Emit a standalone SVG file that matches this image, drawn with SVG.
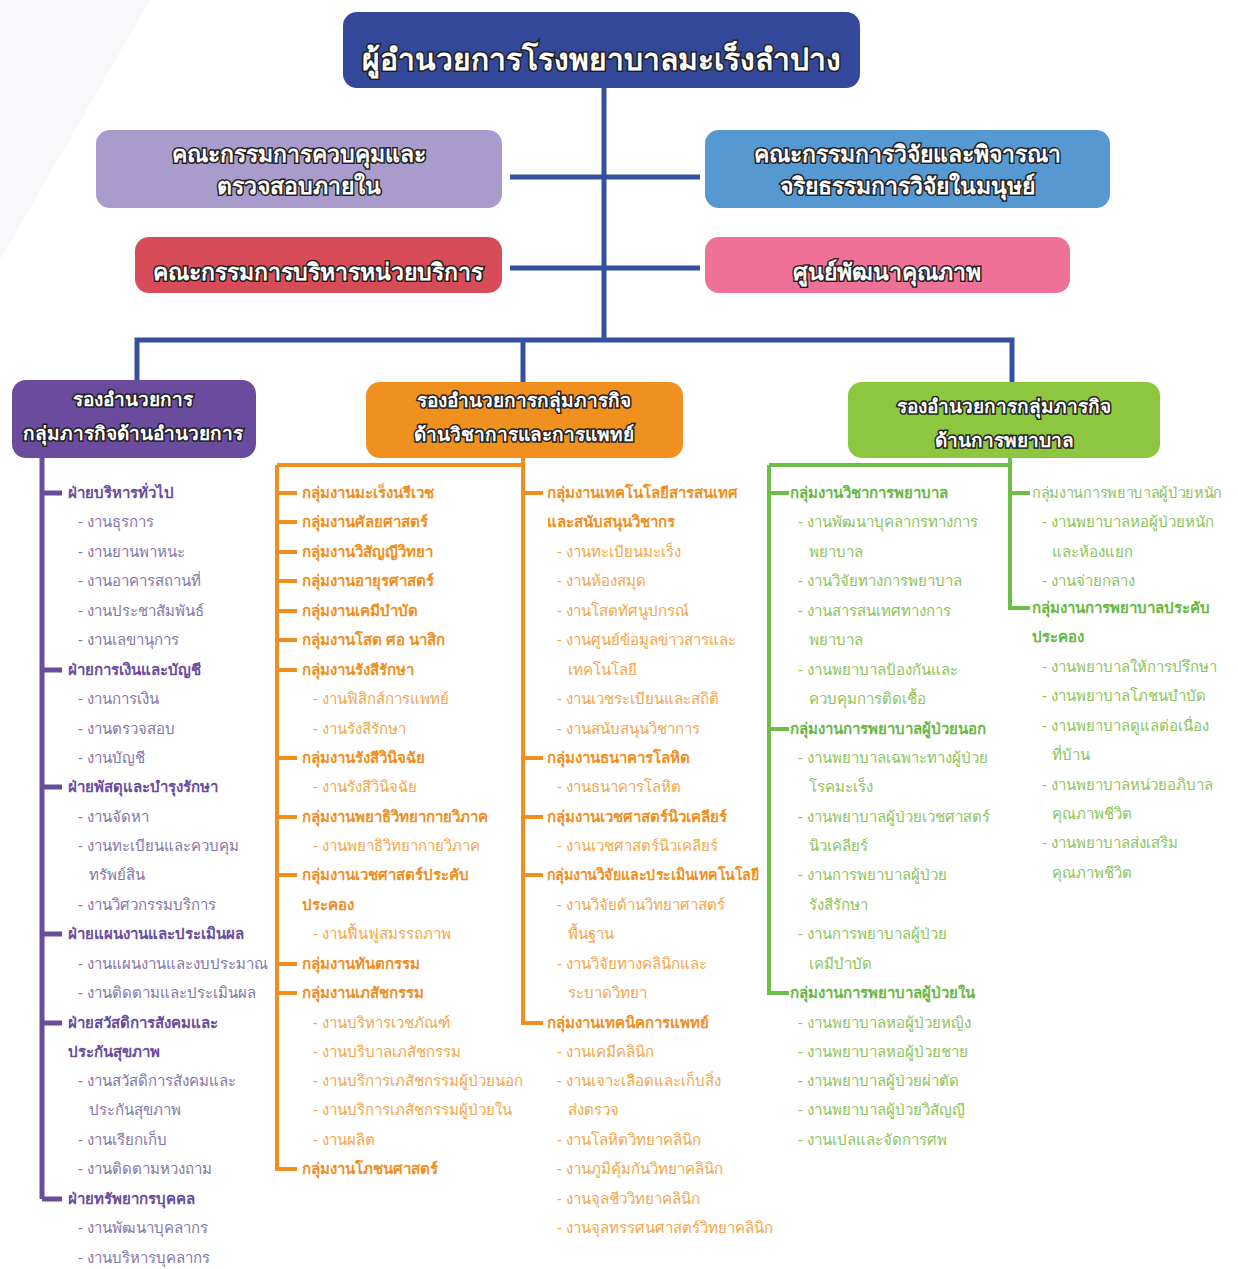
<svg xmlns="http://www.w3.org/2000/svg" width="1238" height="1269" viewBox="0 0 1238 1269">
<style>
text{font-family:"Noto Sans","DejaVu Sans",Tahoma,sans-serif}
.bx{fill:#fff;stroke:#1e1e1e;stroke-width:3;paint-order:stroke;font-weight:bold;text-anchor:middle}
.t1{font-size:30px}
.t2{font-size:23px}
.t3{font-size:19px}
.hp{fill:#6a4c9c;font-size:15px;font-weight:bold}
.ip{fill:#8576a8;font-size:15px}
.ho{fill:#ef8f1f;font-size:15px;font-weight:bold}
.io{fill:#f2a64a;font-size:15px}
.hg{fill:#67b842;font-size:15px;font-weight:bold}
.ig{fill:#8cc45a;font-size:15px}
.lb{stroke:#3450a0;stroke-width:5;fill:none}
.lp{stroke:#6a4c9c;stroke-width:5;fill:none}
.lo{stroke:#ef8f1f;stroke-width:4;fill:none}
.lg{stroke:#6cbd4a;stroke-width:4;fill:none}
</style>
<rect width="1238" height="1269" fill="#ffffff"/>
<polygon points="0,0 150,0 0,260" fill="#f8f8fa"/>
<g id="connectors">
<path class="lb" d="M604 88V340M510 177H700M510 268H700M137 380V340H1012V383M523 340V383"/>
<path class="lp" d="M42 458V1199M42 493H62M42 670H62M42 787H62M42 934H62M42 1023H62M42 1199H62"/>
<path class="lo" d="M523 458V1023H543M277 465H523M277 465V1169H297M277 493H297M277 522H297M277 552H297M277 581H297M277 611H297M277 640H297M277 670H297M277 758H297M277 817H297M277 875H297M277 964H297M277 993H297M523 493H543M523 758H543M523 817H543M523 875H543"/>
<path class="lg" d="M1010 458V608H1030M769 465H1010M769 465V993H789M769 493H789M769 729H789M1010 493H1030"/>
</g>
<g id="director">
<rect x="343" y="12" width="517" height="76" rx="14" fill="#34489a"/>
<text class="bx t1" x="601" y="70">ผู้อำนวยการโรงพยาบาลมะเร็งลำปาง</text>
</g>
<g id="committee-audit">
<rect x="96" y="130" width="406" height="78" rx="14" fill="#a99ccd"/>
<text class="bx t2" x="299" y="162">คณะกรรมการควบคุมและ</text>
<text class="bx t2" x="299" y="194">ตรวจสอบภายใน</text>
</g>
<g id="committee-ethics">
<rect x="705" y="130" width="405" height="78" rx="14" fill="#5598d2"/>
<text class="bx t2" x="907" y="162">คณะกรรมการวิจัยและพิจารณา</text>
<text class="bx t2" x="907" y="194">จริยธรรมการวิจัยในมนุษย์</text>
</g>
<g id="committee-service">
<rect x="135" y="237" width="367" height="56" rx="14" fill="#d84c5a"/>
<text class="bx t2" x="318" y="280">คณะกรรมการบริหารหน่วยบริการ</text>
</g>
<g id="quality-center">
<rect x="705" y="237" width="365" height="56" rx="14" fill="#ef7198"/>
<text class="bx t2" x="887" y="280">ศูนย์พัฒนาคุณภาพ</text>
</g>
<g id="deputy-admin">
<rect x="12" y="380" width="244" height="78" rx="14" fill="#6b4b9e"/>
<text class="bx t3" x="133" y="406">รองอำนวยการ</text>
<text class="bx t3" x="133" y="440">กลุ่มภารกิจด้านอำนวยการ</text>
</g>
<g id="deputy-medical">
<rect x="366" y="382" width="317" height="76" rx="14" fill="#f0901e"/>
<text class="bx t3" x="524" y="407">รองอำนวยการกลุ่มภารกิจ</text>
<text class="bx t3" x="524" y="441">ด้านวิชาการและการแพทย์</text>
</g>
<g id="deputy-nursing">
<rect x="848" y="382" width="312" height="76" rx="14" fill="#8dc63f"/>
<text class="bx t3" x="1004" y="413">รองอำนวยการกลุ่มภารกิจ</text>
<text class="bx t3" x="1004" y="447">ด้านการพยาบาล</text>
</g>
<g id="admin-units">
<text class="hp" x="68" y="498">ฝ่ายบริหารทั่วไป</text>
<text class="ip" x="78" y="527">- งานธุรการ</text>
<text class="ip" x="78" y="557">- งานยานพาหนะ</text>
<text class="ip" x="78" y="586">- งานอาคารสถานที่</text>
<text class="ip" x="78" y="616">- งานประชาสัมพันธ์</text>
<text class="ip" x="78" y="645">- งานเลขานุการ</text>
<text class="hp" x="68" y="675">ฝ่ายการเงินและบัญชี</text>
<text class="ip" x="78" y="704">- งานการเงิน</text>
<text class="ip" x="78" y="734">- งานตรวจสอบ</text>
<text class="ip" x="78" y="763">- งานบัญชี</text>
<text class="hp" x="68" y="792">ฝ่ายพัสดุและบำรุงรักษา</text>
<text class="ip" x="78" y="822">- งานจัดหา</text>
<text class="ip" x="78" y="851">- งานทะเบียนและควบคุม</text>
<text class="ip" x="89" y="880">ทรัพย์สิน</text>
<text class="ip" x="78" y="910">- งานวิศวกรรมบริการ</text>
<text class="hp" x="68" y="939">ฝ่ายแผนงานและประเมินผล</text>
<text class="ip" x="78" y="969">- งานแผนงานและงบประมาณ</text>
<text class="ip" x="78" y="998">- งานติดตามและประเมินผล</text>
<text class="hp" x="68" y="1028">ฝ่ายสวัสดิการสังคมและ</text>
<text class="hp" x="68" y="1057">ประกันสุขภาพ</text>
<text class="ip" x="78" y="1086">- งานสวัสดิการสังคมและ</text>
<text class="ip" x="89" y="1115">ประกันสุขภาพ</text>
<text class="ip" x="78" y="1145">- งานเรียกเก็บ</text>
<text class="ip" x="78" y="1174">- งานติดตามหวงถาม</text>
<text class="hp" x="68" y="1204">ฝ่ายทรัพยากรบุคคล</text>
<text class="ip" x="78" y="1233">- งานพัฒนาบุคลากร</text>
<text class="ip" x="78" y="1263">- งานบริหารบุคลากร</text>
</g>
<g id="medical-units-1">
<text class="ho" x="302" y="498">กลุ่มงานมะเร็งนรีเวช</text>
<text class="ho" x="302" y="527">กลุ่มงานศัลยศาสตร์</text>
<text class="ho" x="302" y="557">กลุ่มงานวิสัญญีวิทยา</text>
<text class="ho" x="302" y="586">กลุ่มงานอายุรศาสตร์</text>
<text class="ho" x="302" y="616">กลุ่มงานเคมีบำบัด</text>
<text class="ho" x="302" y="645">กลุ่มงานโสต ศอ นาสิก</text>
<text class="ho" x="302" y="675">กลุ่มงานรังสีรักษา</text>
<text class="io" x="313" y="704">- งานฟิสิกส์การแพทย์</text>
<text class="io" x="313" y="734">- งานรังสีรักษา</text>
<text class="ho" x="302" y="763">กลุ่มงานรังสีวินิจฉัย</text>
<text class="io" x="313" y="792">- งานรังสีวินิจฉัย</text>
<text class="ho" x="302" y="822">กลุ่มงานพยาธิวิทยากายวิภาค</text>
<text class="io" x="313" y="851">- งานพยาธิวิทยากายวิภาค</text>
<text class="ho" x="302" y="880">กลุ่มงานเวชศาสตร์ประคับ</text>
<text class="ho" x="302" y="910">ประคอง</text>
<text class="io" x="313" y="939">- งานฟื้นฟูสมรรถภาพ</text>
<text class="ho" x="302" y="969">กลุ่มงานทันตกรรม</text>
<text class="ho" x="302" y="998">กลุ่มงานเภสัชกรรม</text>
<text class="io" x="313" y="1028">- งานบริหารเวชภัณฑ์</text>
<text class="io" x="313" y="1057">- งานบริบาลเภสัชกรรม</text>
<text class="io" x="313" y="1086">- งานบริการเภสัชกรรมผู้ป่วยนอก</text>
<text class="io" x="313" y="1115">- งานบริการเภสัชกรรมผู้ป่วยใน</text>
<text class="io" x="313" y="1145">- งานผลิต</text>
<text class="ho" x="302" y="1174">กลุ่มงานโภชนศาสตร์</text>
</g>
<g id="medical-units-2">
<text class="ho" x="547" y="498">กลุ่มงานเทคโนโลยีสารสนเทศ</text>
<text class="ho" x="547" y="527">และสนับสนุนวิชากร</text>
<text class="io" x="557" y="557">- งานทะเบียนมะเร็ง</text>
<text class="io" x="557" y="586">- งานห้องสมุด</text>
<text class="io" x="557" y="616">- งานโสตทัศนูปกรณ์</text>
<text class="io" x="557" y="645">- งานศูนย์ข้อมูลข่าวสารและ</text>
<text class="io" x="568" y="675">เทคโนโลยี</text>
<text class="io" x="557" y="704">- งานเวชระเบียนและสถิติ</text>
<text class="io" x="557" y="734">- งานสนับสนุนวิชาการ</text>
<text class="ho" x="547" y="763">กลุ่มงานธนาคารโลหิต</text>
<text class="io" x="557" y="792">- งานธนาคารโลหิต</text>
<text class="ho" x="547" y="822">กลุ่มงานเวชศาสตร์นิวเคลียร์</text>
<text class="io" x="557" y="851">- งานเวชศาสตร์นิวเคลียร์</text>
<text class="ho" x="547" y="880" textLength="212" lengthAdjust="spacingAndGlyphs">กลุ่มงานวิจัยและประเมินเทคโนโลยี</text>
<text class="io" x="557" y="910">- งานวิจัยด้านวิทยาศาสตร์</text>
<text class="io" x="568" y="939">พื้นฐาน</text>
<text class="io" x="557" y="969">- งานวิจัยทางคลินิกและ</text>
<text class="io" x="568" y="998">ระบาดวิทยา</text>
<text class="ho" x="547" y="1028">กลุ่มงานเทคนิคการแพทย์</text>
<text class="io" x="557" y="1057">- งานเคมีคลินิก</text>
<text class="io" x="557" y="1086">- งานเจาะเลือดและเก็บสิ่ง</text>
<text class="io" x="568" y="1115">ส่งตรวจ</text>
<text class="io" x="557" y="1145">- งานโลหิตวิทยาคลินิก</text>
<text class="io" x="557" y="1174">- งานภูมิคุ้มกันวิทยาคลินิก</text>
<text class="io" x="557" y="1204">- งานจุลชีววิทยาคลินิก</text>
<text class="io" x="557" y="1233">- งานจุลทรรศนศาสตร์วิทยาคลินิก</text>
</g>
<g id="nursing-units-1">
<text class="hg" x="790" y="498">กลุ่มงานวิชาการพยาบาล</text>
<text class="ig" x="798" y="527">- งานพัฒนาบุคลากรทางการ</text>
<text class="ig" x="809" y="557">พยาบาล</text>
<text class="ig" x="798" y="586">- งานวิจัยทางการพยาบาล</text>
<text class="ig" x="798" y="616">- งานสารสนเทศทางการ</text>
<text class="ig" x="809" y="645">พยาบาล</text>
<text class="ig" x="798" y="675">- งานพยาบาลป้องกันและ</text>
<text class="ig" x="809" y="704">ควบคุมการติดเชื้อ</text>
<text class="hg" x="790" y="734">กลุ่มงานการพยาบาลผู้ป่วยนอก</text>
<text class="ig" x="798" y="763">- งานพยาบาลเฉพาะทางผู้ป่วย</text>
<text class="ig" x="809" y="792">โรคมะเร็ง</text>
<text class="ig" x="798" y="822">- งานพยาบาลผู้ป่วยเวชศาสตร์</text>
<text class="ig" x="809" y="851">นิวเคลียร์</text>
<text class="ig" x="798" y="880">- งานการพยาบาลผู้ป่วย</text>
<text class="ig" x="809" y="910">รังสีรักษา</text>
<text class="ig" x="798" y="939">- งานการพยาบาลผู้ป่วย</text>
<text class="ig" x="809" y="969">เคมีบำบัด</text>
<text class="hg" x="790" y="998">กลุ่มงานการพยาบาลผู้ป่วยใน</text>
<text class="ig" x="798" y="1028">- งานพยาบาลหอผู้ป่วยหญิง</text>
<text class="ig" x="798" y="1057">- งานพยาบาลหอผู้ป่วยชาย</text>
<text class="ig" x="798" y="1086">- งานพยาบาลผู้ป่วยผ่าตัด</text>
<text class="ig" x="798" y="1115">- งานพยาบาลผู้ป่วยวิสัญญี</text>
<text class="ig" x="798" y="1145">- งานเปลและจัดการศพ</text>
</g>
<g id="nursing-units-2">
<text class="ig" x="1032" y="498" textLength="190" lengthAdjust="spacingAndGlyphs">กลุ่มงานการพยาบาลผู้ป่วยหนัก</text>
<text class="ig" x="1042" y="527">- งานพยาบาลหอผู้ป่วยหนัก</text>
<text class="ig" x="1052" y="557">และห้องแยก</text>
<text class="ig" x="1042" y="586">- งานจ่ายกลาง</text>
<text class="hg" x="1032" y="613">กลุ่มงานการพยาบาลประคับ</text>
<text class="hg" x="1032" y="642">ประคอง</text>
<text class="ig" x="1042" y="672">- งานพยาบาลให้การปรึกษา</text>
<text class="ig" x="1042" y="701">- งานพยาบาลโภชนบำบัด</text>
<text class="ig" x="1042" y="731">- งานพยาบาลดูแลต่อเนื่อง</text>
<text class="ig" x="1052" y="760">ที่บ้าน</text>
<text class="ig" x="1042" y="790">- งานพยาบาลหน่วยอภิบาล</text>
<text class="ig" x="1052" y="819">คุณภาพชีวิต</text>
<text class="ig" x="1042" y="848">- งานพยาบาลส่งเสริม</text>
<text class="ig" x="1052" y="878">คุณภาพชีวิต</text>
</g>
</svg>
